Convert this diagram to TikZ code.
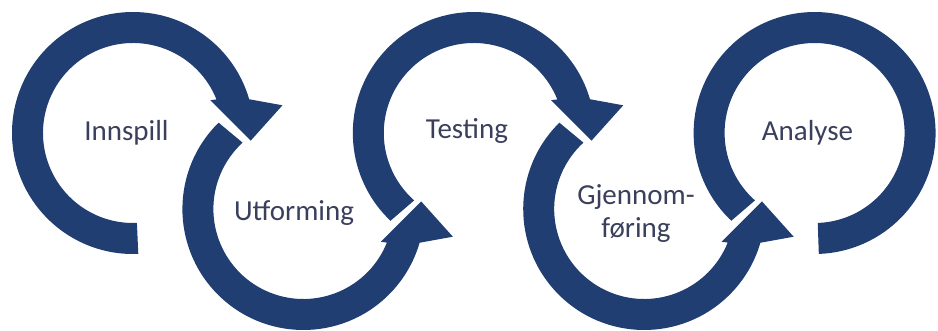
\documentclass[tikz,border=0pt]{standalone}
\usepackage{fontspec}
\setmainfont{Carlito}
\definecolor{ringblue}{RGB}{32,62,114}
\definecolor{labeltext}{RGB}{58,64,92}
\tikzset{
  ringpiece/.style={fill=ringblue, draw=none},
  steplabel/.style={text=labeltext, font=\fontsize{29}{33}\selectfont, align=center, inner sep=0pt}
}
\begin{document}
\begin{tikzpicture}[x=1pt,y=1pt]
\useasboundingbox (0,0) rectangle (938,330);
\coordinate (c1) at (133,197);
\coordinate (c2) at (303.4,121);
\coordinate (c3) at (473.8,197);
\coordinate (c4) at (644.2,121);
\coordinate (c5) at (814.6,197);
% circle 1
\fill[ringpiece, shift={(c1)}] (272.5:121) arc[start angle=272.5, end angle=16.2, radius=121]
  -- (10.5:152) -- (-3.7:118) -- (23:84) -- (21.9:90)
  arc[start angle=21.9, end angle=272.5, radius=90] -- cycle;
% circle 2
\fill[ringpiece, shift={(c2)}] (134.5:121) arc[start angle=134.5, end angle=343.8, radius=121]
  -- (349.5:152) -- (363.7:118) -- (337:84) -- (338.1:90)
  arc[start angle=338.1, end angle=132.5, radius=90] -- cycle;
% circle 3
\fill[ringpiece, shift={(c3)}] (226.5:121) arc[start angle=226.5, end angle=16.2, radius=121]
  -- (10.5:152) -- (-3.7:118) -- (23:84) -- (21.9:90)
  arc[start angle=21.9, end angle=228.5, radius=90] -- cycle;
% circle 4
\fill[ringpiece, shift={(c4)}] (134.5:121) arc[start angle=134.5, end angle=343.8, radius=121]
  -- (349.5:152) -- (363.7:118) -- (337:84) -- (338.1:90)
  arc[start angle=338.1, end angle=132.5, radius=90] -- cycle;
% circle 5
\fill[ringpiece, shift={(c5)}] (226.5:121) arc[start angle=226.5, end angle=-88, radius=121]
  -- (-88:90) arc[start angle=-88, end angle=228.5, radius=90] -- cycle;
% labels
\node[steplabel] (innspill) at (126.5,197) {Innspill};
\node[steplabel] (utforming) at (294,117) {Utforming};
\node[steplabel] (testing) at (467,199) {Testing};
\node[steplabel] (gjennom) at (636,116) {Gjennom-\\føring};
\node[steplabel] (analyse) at (807.5,197) {Analyse};
\end{tikzpicture}
\end{document}
